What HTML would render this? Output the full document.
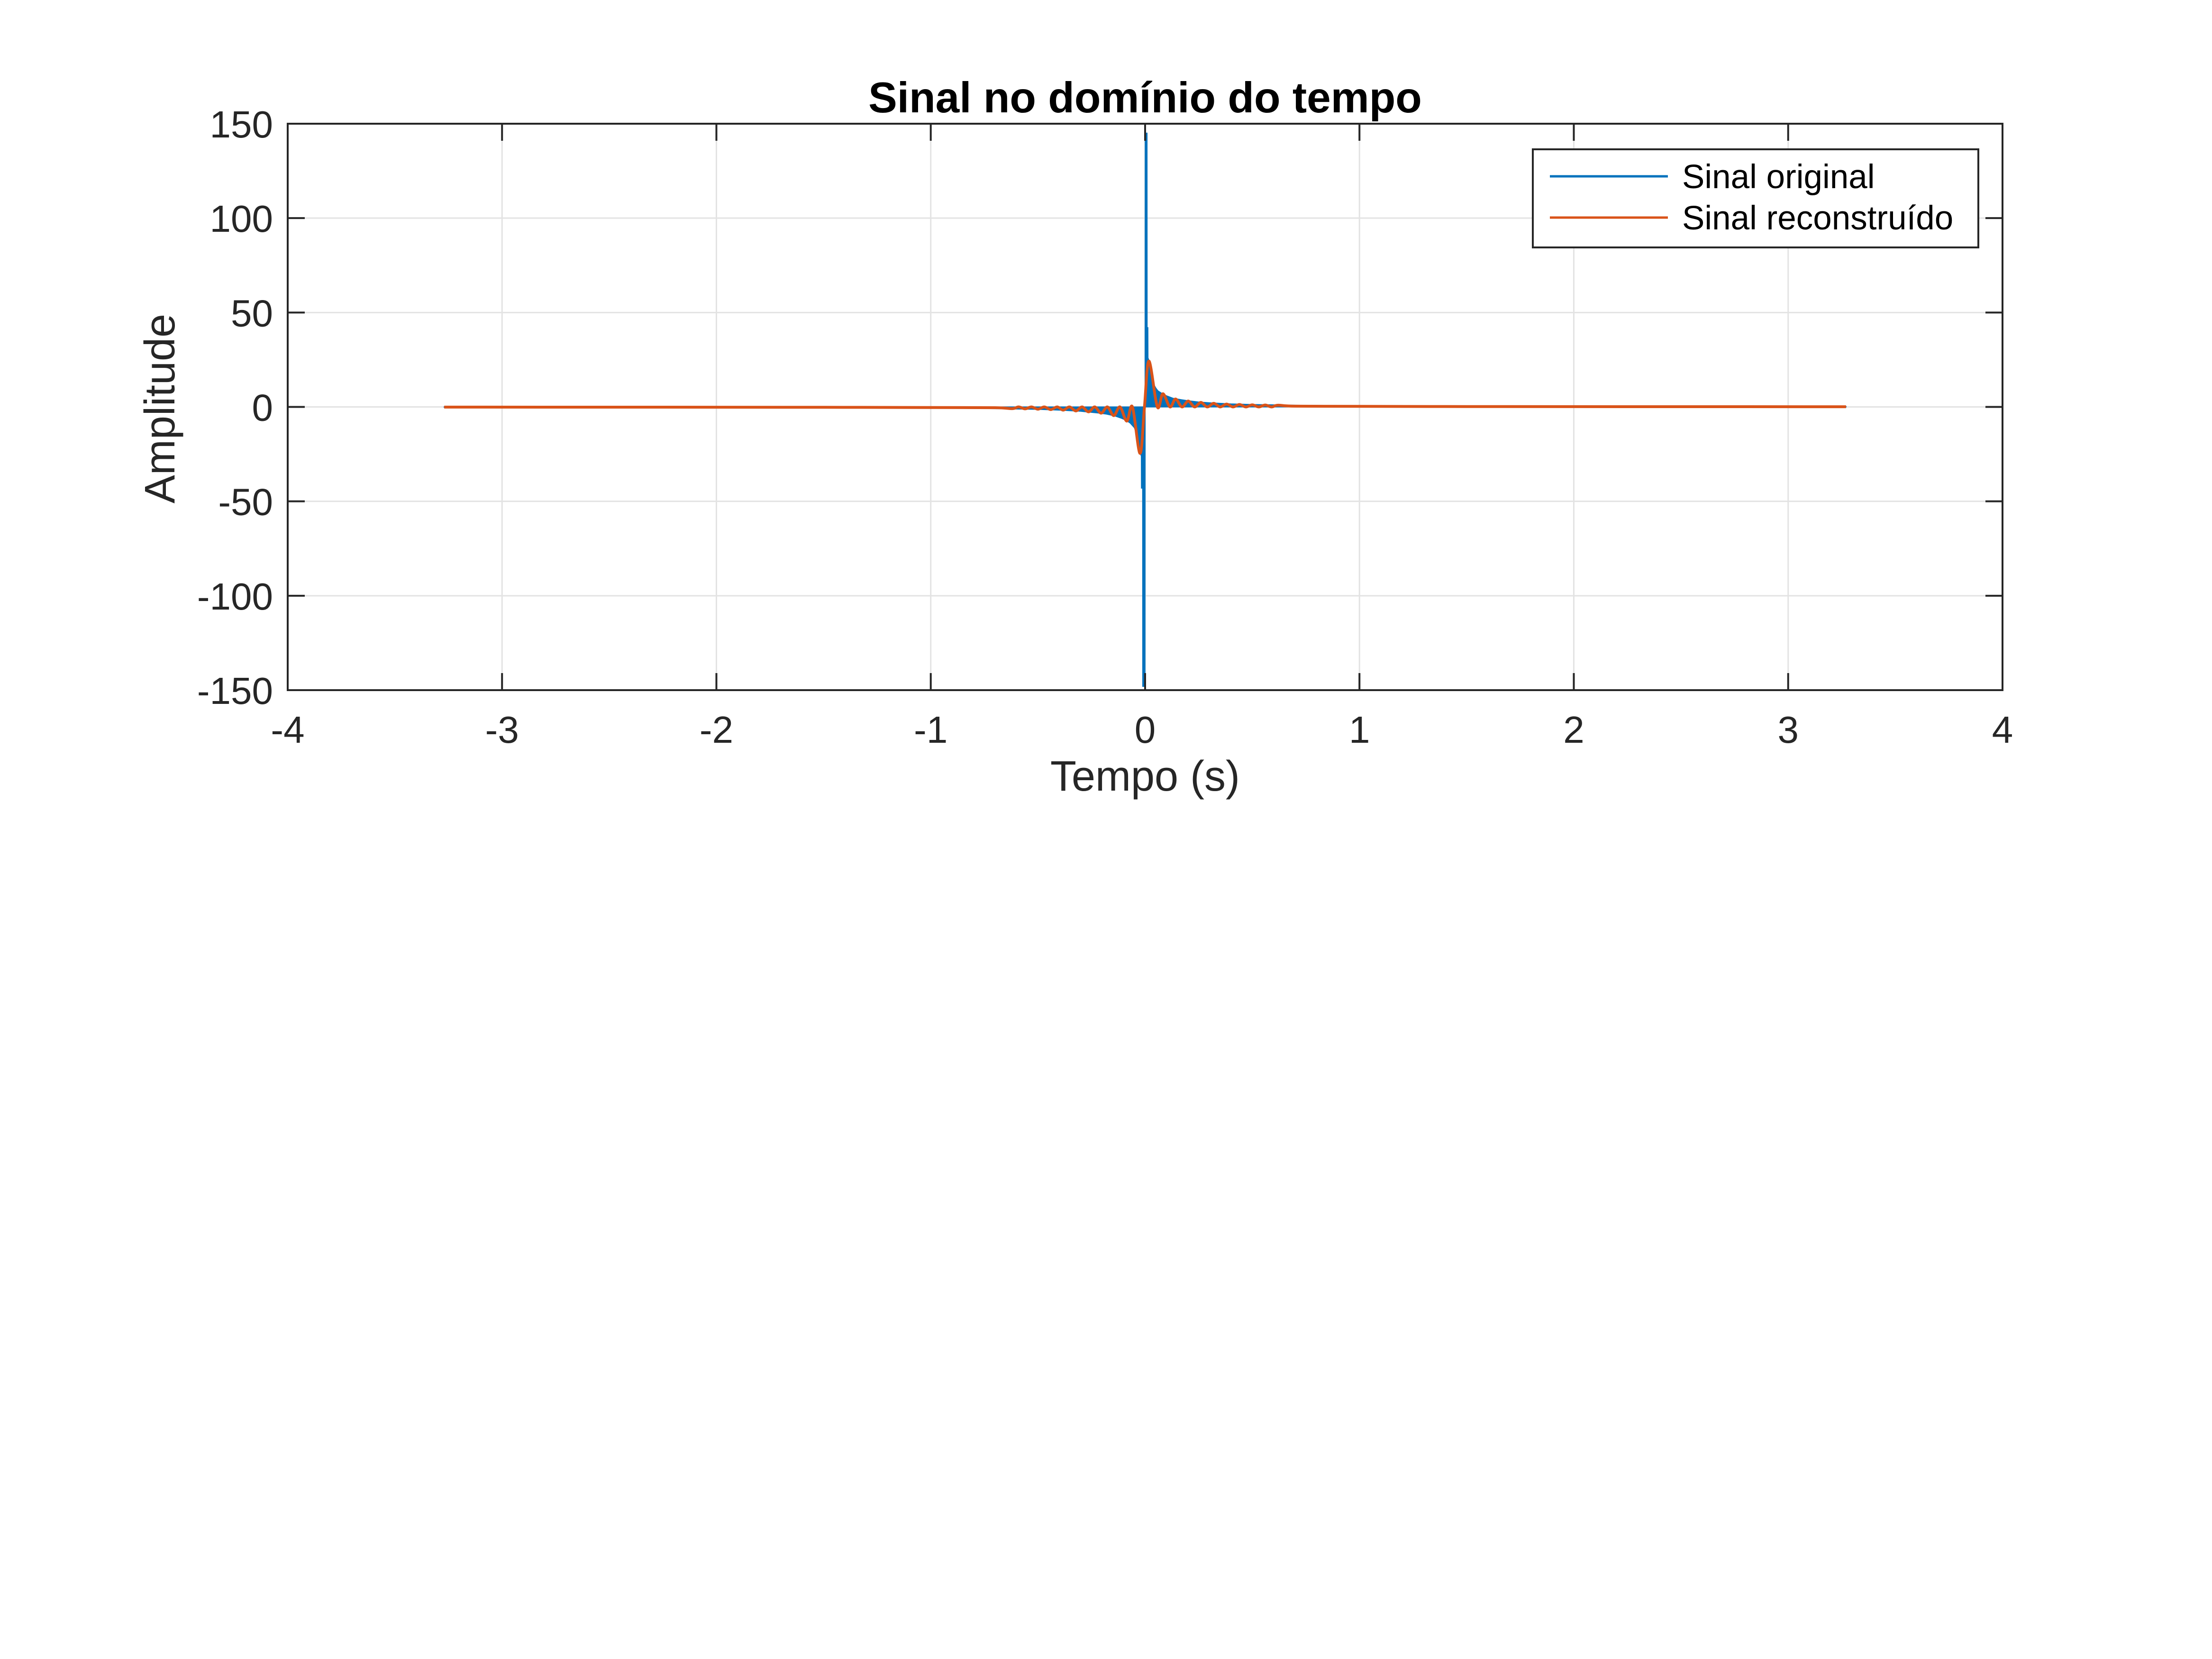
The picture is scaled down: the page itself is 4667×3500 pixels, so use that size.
<!DOCTYPE html>
<html><head><meta charset="utf-8">
<style>
html,body{margin:0;padding:0;background:#fff;}
svg{display:block;font-family:"Liberation Sans",Arial,sans-serif;}
</style></head>
<body>
<svg id="chart" width="4667" height="3500" viewBox="0 0 4667 3500" xmlns="http://www.w3.org/2000/svg">
<rect width="4667" height="3500" fill="#fff"/>
<g id="grid"></g>
<g id="series"></g>
<g id="axes"></g>
<text x="2416" y="237" text-anchor="middle" font-size="91" font-weight="bold" fill="#000">Sinal no domínio do tempo</text>
<text x="2416" y="1668" text-anchor="middle" font-size="90" fill="#262626">Tempo (s)</text>
<text transform="translate(368,862) rotate(-90)" text-anchor="middle" font-size="90" fill="#262626">Amplitude</text>
<g>
<rect x="3234" y="315" width="940" height="207" fill="#fff" stroke="#262626" stroke-width="4"/>
<line x1="3270" y1="372" x2="3519" y2="372" stroke="#0072BD" stroke-width="5"/>
<text x="3549" y="397" font-size="71" fill="#000">Sinal original</text>
<line x1="3270" y1="459" x2="3519" y2="459" stroke="#D95319" stroke-width="5"/>
<text x="3549" y="484" font-size="71" fill="#000">Sinal reconstruído</text>
</g>
</svg>
<script>
const xTicks=[-4,-3,-2,-1,0,1,2,3,4];
const yTicks=[-150,-100,-50,0,50,100,150];
const origPosT=[0,0.0005,0.009,0.0095,0.013,0.0135,0.02,0.03,0.04,0.05,0.06,0.08,0.1,0.13,0.17,0.2,0.25,0.3,0.4,0.5,0.7,1,1.5,2,2.5,3.27];
const origPosV=[0,145,145,42,42,26,24,17,12,10,8.5,7,5.9,4.6,3.8,3.3,2.6,2.2,1.6,1.3,0.9,0.6,0.4,0.3,0.25,0.2];
const origNegT=[0,-0.0005,-0.011,-0.0115,-0.017,-0.0175,-0.025,-0.035,-0.05,-0.07,-0.09,-0.11,-0.14,-0.18,-0.22,-0.3,-0.4,-0.5,-0.7,-1,-1.5,-2,-2.5,-3.27];
const origNegV=[0,-148,-148,-43,-43,-26,-24,-16,-11,-8.5,-7,-6,-4.8,-3.8,-3.2,-2.3,-1.7,-1.3,-0.9,-0.6,-0.4,-0.3,-0.25,-0.2];
const recT=[-3.27,-2,-1.5,-1,-0.7,-0.62,-0.59,-0.56,-0.53,-0.5,-0.47,-0.44,-0.41,-0.382,-0.353,-0.323,-0.294,-0.264,-0.235,-0.205,-0.176,-0.146,-0.117,-0.0855,-0.059,-0.0236,-0.003,0.0177,0.057,0.083,0.116,0.142,0.172,0.201,0.231,0.26,0.29,0.32,0.35,0.38,0.41,0.44,0.47,0.5,0.53,0.56,0.59,0.62,0.7,1,1.5,2,3.27];
const recV=[-0.1,-0.15,-0.2,-0.3,-0.4,-0.9,0,-1.0,0,-1.2,0,-1.4,0,-1.7,0,-2.1,0,-2.6,0,-3.3,0,-4.6,0,-7.5,0,-24.6,0,24.3,0,7.0,0,4.2,0,3.1,0,2.4,0,1.9,0,1.5,0,1.3,0,1.1,0,1.0,0,0.9,0.4,0.3,0.2,0.15,0.1];

const L=607,R=4225,T=261,B=1456;
const xs=t=>L+(t+4)/8*(R-L);
const ys=v=>B-(v+150)/300*(B-T);
const NS='http://www.w3.org/2000/svg';
function mk(tag,attrs,parent){const e=document.createElementNS(NS,tag);for(const k in attrs)e.setAttribute(k,attrs[k]);parent.appendChild(e);return e;}
const grid=document.getElementById('grid'),axes=document.getElementById('axes'),series=document.getElementById('series');
xTicks.forEach(t=>{
  const g=mk('line',{x1:xs(t),x2:xs(t),y1:T,y2:B,stroke:'#e3e3e3','stroke-width':3},grid);
  
  
  const a=mk('line',{x1:xs(t),x2:xs(t),y1:B,y2:B-36,stroke:'#262626','stroke-width':4},axes);
  
  
  const b=mk('line',{x1:xs(t),x2:xs(t),y1:T,y2:T+36,stroke:'#262626','stroke-width':4},axes);
  
  
  const l=mk('text',{x:xs(t),y:1567,'text-anchor':'middle','font-size':80,fill:'#262626'},axes);
  l.textContent=String(t);
  
  
});
yTicks.forEach(v=>{
  const g=mk('line',{x1:L,x2:R,y1:ys(v),y2:ys(v),stroke:'#e3e3e3','stroke-width':3},grid);
  
  
  const a=mk('line',{x1:L,x2:L+36,y1:ys(v),y2:ys(v),stroke:'#262626','stroke-width':4},axes);
  
  
  const b=mk('line',{x1:R,x2:R-36,y1:ys(v),y2:ys(v),stroke:'#262626','stroke-width':4},axes);
  
  
  const l=mk('text',{x:576,y:ys(v)+29,'text-anchor':'end','font-size':80,fill:'#262626'},axes);
  l.textContent=String(v);
  
  
});
const box=mk('rect',{x:L,y:T,width:R-L,height:B-T,fill:'none',stroke:'#262626','stroke-width':4},axes);



function envPath(ts,vs){let d='M'+xs(ts[0])+' '+ys(0);for(let i=0;i<ts.length;i++)d+=' L'+xs(ts[i]).toFixed(2)+' '+ys(vs[i]).toFixed(2);d+=' L'+xs(ts[ts.length-1])+' '+ys(0)+' Z';return d;}
const p1=mk('path',{d:envPath(origPosT,origPosV),fill:'#0072BD',stroke:'#0072BD','stroke-width':2},series);


const p2=mk('path',{d:envPath(origNegT,origNegV),fill:'#0072BD',stroke:'#0072BD','stroke-width':2},series);



const P=recT.map((t,i)=>[xs(t),ys(recV[i])]);
let d='M'+P[0][0].toFixed(2)+' '+P[0][1].toFixed(2);
for(let i=0;i<P.length-1;i++){
  const p0=P[Math.max(0,i-1)],p1_=P[i],p2_=P[i+1],p3=P[Math.min(P.length-1,i+2)];
  const c1=[p1_[0]+(p2_[0]-p0[0])/6,p1_[1]+(p2_[1]-p0[1])/6];
  const c2=[p2_[0]-(p3[0]-p1_[0])/6,p2_[1]-(p3[1]-p1_[1])/6];
  c1[0]=Math.min(Math.max(c1[0],p1_[0]),p2_[0]);c2[0]=Math.min(Math.max(c2[0],p1_[0]),p2_[0]);
  d+=' C'+c1[0].toFixed(2)+' '+c1[1].toFixed(2)+' '+c2[0].toFixed(2)+' '+c2[1].toFixed(2)+' '+p2_[0].toFixed(2)+' '+p2_[1].toFixed(2);
}
const rc=mk('path',{d:d,fill:'none',stroke:'#D95319','stroke-width':6,'stroke-linejoin':'round'},series);


</script>
</body></html>
